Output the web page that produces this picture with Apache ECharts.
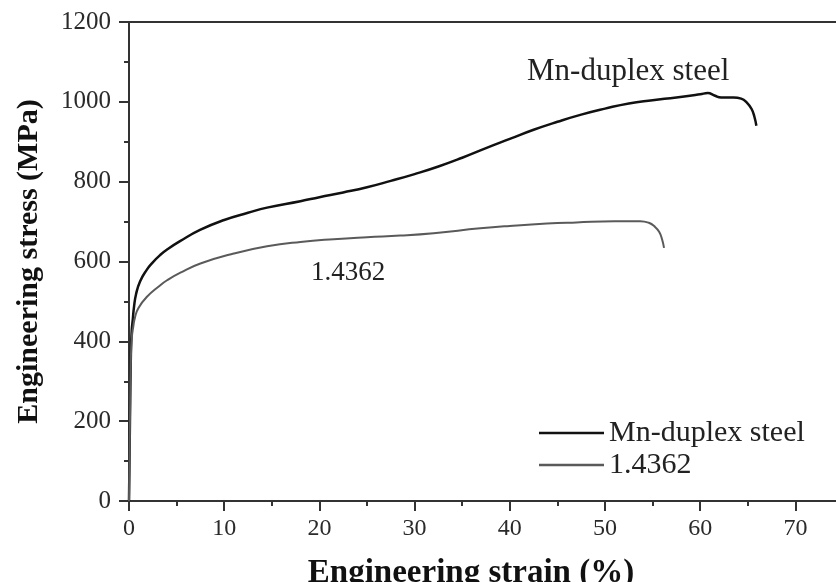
<!DOCTYPE html>
<html>
<head>
<meta charset="utf-8">
<script src="https://cdn.jsdelivr.net/npm/echarts@6/dist/echarts.min.js"></script>
<style>html,body{margin:0;padding:0;background:#fff}#c{width:836px;height:582px}</style>
</head>
<body>
<div id="c"></div>
<script>
// Data
var seriesNames = ['Mn-duplex steel', '1.4362'];
var xTicks = [0, 10, 20, 30, 40, 50, 60, 70];
var yTicks = [0, 200, 400, 600, 800, 1000, 1200];
var mnDuplex = [
  [0,0],[0.1,200],[0.2,370],[0.28,425],[0.39,453],[0.53,487],[0.74,518],[1.16,550],
  [1.86,579],[2.5,598],[3.26,616],[4.0,630],[5.36,651],[7.46,679],[10,704],[12.5,722],
  [14.5,735],[18,751],[20,761],[22.5,773],[25,786],[27.5,802],[30,819],[32.5,838],[35,860],
  [37.5,884],[40,907],[42.5,930],[45,950],[47.5,968],[50,983],[52.5,996],[55,1004],
  [57.5,1011],[60,1019],[60.8,1022],[61.5,1016],[62.2,1011],[63.5,1011],[64.3,1008],
  [64.9,998],[65.4,982],[65.7,962],[65.9,940]
];
var alloy14362 = [
  [0,0],[0.1,200],[0.2,360],[0.3,410],[0.45,437],[0.63,460],[0.98,483],[1.86,511],
  [3.26,540],[4.0,553],[5.4,572],[7.5,595],[11,620],[14.5,638],[18,649],[21.5,656],
  [25,661],[28.5,665],[32,671],[36.9,683],[40,689],[43.9,695],[47,698],[51,701],
  [53.7,701],[54.6,697],[55.2,688],[55.7,674],[56.0,655],[56.2,634]
];
var annotations = ['Mn-duplex steel', '1.4362'];

var serif = '"Liberation Serif", "Times New Roman", serif';
var chart = echarts.init(document.getElementById('c'));
chart.setOption({
  animation: false,
  backgroundColor: '#fff',
  grid: { show: true, left: 129, top: 22, width: 714, height: 479, borderColor: '#333', borderWidth: 2,
    containLabel: false, outerBoundsMode: 'none' },
  legend: {
    data: seriesNames, orient: 'vertical', left: 539, top: 418, padding: 0,
    icon: 'rect', itemWidth: 65, itemHeight: 2.5, itemGap: 2,
    textStyle: { fontFamily: serif, fontSize: 30, color: '#222', lineHeight: 30 }
  },
  xAxis: {
    type: 'value', min: xTicks[0], max: 75, interval: 10,
    name: 'Engineering strain (%)', nameLocation: 'middle', nameGap: 56,
    nameTextStyle: { fontFamily: serif, fontSize: 33, fontWeight: 'bold', color: '#111', padding: [0, 30, 0, 0] },
    axisLine: { lineStyle: { color: '#333', width: 2 } },
    axisTick: { length: 10, lineStyle: { color: '#333', width: 2 } },
    minorTick: { show: true, splitNumber: 2, length: 5, lineStyle: { color: '#333', width: 2 } },
    axisLabel: { fontFamily: serif, fontSize: 24, color: '#2a2a2a', margin: 16, showMaxLabel: false,
      formatter: function (v) { return xTicks.indexOf(v) >= 0 ? String(v) : ''; } },
    splitLine: { show: false }
  },
  yAxis: {
    type: 'value', min: yTicks[0], max: yTicks[yTicks.length - 1], interval: 200,
    name: 'Engineering stress (MPa)', nameLocation: 'middle', nameGap: 85,
    nameTextStyle: { fontFamily: serif, fontSize: 30, fontWeight: 'bold', color: '#111' },
    axisLine: { lineStyle: { color: '#333', width: 2 } },
    axisTick: { length: 10, lineStyle: { color: '#333', width: 2 } },
    minorTick: { show: true, splitNumber: 2, length: 5, lineStyle: { color: '#333', width: 2 } },
    axisLabel: { fontFamily: serif, fontSize: 25, color: '#2a2a2a', margin: 18,
      formatter: function (v) { return String(v); } },
    splitLine: { show: false }
  },
  series: [
    { name: seriesNames[0], type: 'line', data: mnDuplex, symbol: 'none', smooth: 0.5,
      lineStyle: { color: '#111', width: 2.5 }, itemStyle: { color: '#111' } },
    { name: seriesNames[1], type: 'line', data: alloy14362, symbol: 'none', smooth: 0.5,
      lineStyle: { color: '#5a5a5a', width: 2 }, itemStyle: { color: '#5a5a5a' } }
  ],
  graphic: [
    { type: 'text', left: 527, top: 56, style: { text: annotations[0], font: '31px ' + serif, fill: '#222' } },
    { type: 'text', left: 311, top: 259, style: { text: annotations[1], font: '27px ' + serif, fill: '#222' } }
  ]
});
</script>
</body>
</html>
